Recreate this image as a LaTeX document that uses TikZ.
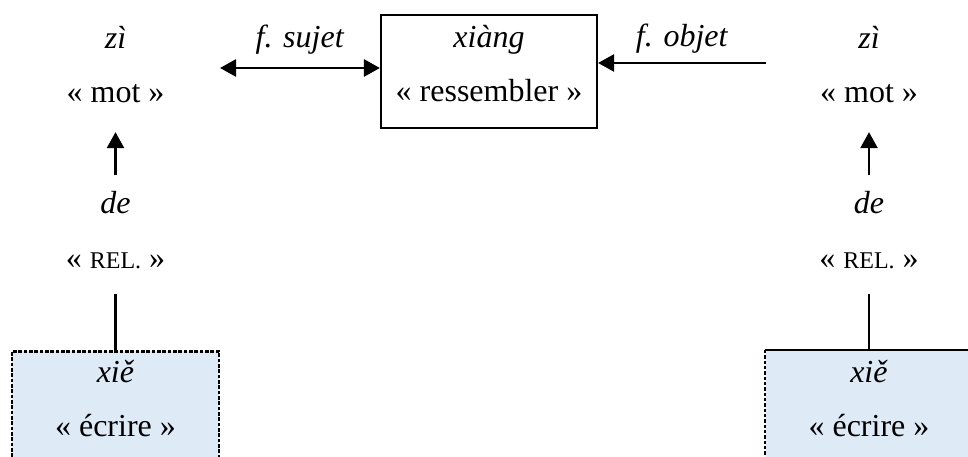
\documentclass[tikz,border=0pt]{standalone}
\usepackage{fontspec}
\setmainfont{Liberation Serif}
\usetikzlibrary{arrows.meta, positioning}
\definecolor{paleblue}{HTML}{DEEAF6}

\begin{document}
\begin{tikzpicture}[
  x=0.375pt, y=-0.375pt,
  >={Triangle[length=6pt, width=6.4pt]},
  every node/.style={font=\fontsize{12}{20.5}\selectfont},
  word/.style={align=center, inner sep=0pt},
  verb/.style={draw, line width=0.8pt, minimum width=81pt, minimum height=42.4pt, align=center, inner sep=0pt, text depth=6pt},
  basebox/.style={fill=paleblue, minimum width=77.6pt, minimum height=52.5pt, anchor=north, inner sep=0pt},
  arr/.style={line width=0.9pt},
  dashedge/.style={line width=1pt, dash pattern=on 1.3pt off 0.7pt}
]
  \useasboundingbox (0,0) rectangle (968,457);

  % verb and its two functions
  \node[verb] (xiang) at (489,71.5) {\textit{xiàng}\\«~ressembler~»};
  \coordinate (sujet) at (220,68);
  \coordinate (objet) at (766,63);
  \draw[arr, <->] (sujet) -- node[word, above=4.5pt] {\textit{f. sujet}} (sujet -| xiang.west);
  \draw[arr, ->] (objet) -- node[word, above=3.3pt] {\textit{f. objet}} (objet -| xiang.east);

  % left column
  \node[word] (zi1) at (115.5,64.5) {\textit{zì}\\«~mot~»};
  \node[word] (de1) at (115.5,230) {\textit{de}\\«~{\fontsize{9}{9}\selectfont REL.}~»};
  \node[basebox, draw, dashedge] (box1) at (115.5,350) {};
  \node[word] (xie1) at (115.5,398.5) {\textit{xiě}\\«~écrire~»};
  \draw[arr, ->, shorten <=5.8pt, shorten >=10.7pt] (de1) -- (zi1);
  \draw[arr, shorten <=9.2pt] (de1) -- (box1);

  % right column
  \node[word] (zi2) at (869,64.5) {\textit{zì}\\«~mot~»};
  \node[word] (de2) at (869,230) {\textit{de}\\«~{\fontsize{9}{9}\selectfont REL.}~»};
  \node[basebox] (box2) at (869,350) {};
  \draw[arr] (box2.north west) -- (box2.north east);
  \draw[dashedge] (box2.north west) -- (box2.south west);
  \node[word] (xie2) at (869,398.5) {\textit{xiě}\\«~écrire~»};
  \draw[arr, ->, shorten <=5.8pt, shorten >=10.7pt] (de2) -- (zi2);
  \draw[arr, shorten <=9.2pt] (de2) -- (box2);
\end{tikzpicture}
\end{document}
